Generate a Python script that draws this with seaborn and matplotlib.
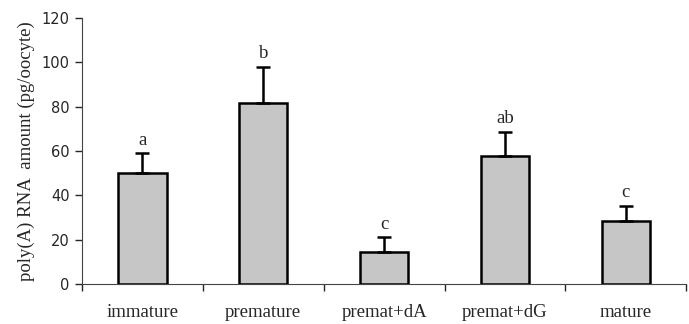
import pandas as pd
import matplotlib.pyplot as plt
import seaborn as sns

### values
stages = ['immature', 'premature', 'premat+dA', 'premat+dG', 'mature']
amount = [50.2, 81.8, 14.3, 57.9, 28.7]
sem = [8.8, 16.2, 6.9, 10.8, 6.6]
letters = ['a', 'b', 'c', 'ab', 'c']

df = pd.DataFrame({'stage': stages, 'amount': amount})

sns.set_style('white')
plt.rcParams['font.family'] = ['Liberation Serif', 'DejaVu Serif']

fig = plt.figure(figsize=(6.89, 3.24), dpi=100)
ax = fig.add_axes([0.119, 0.123, 0.877, 0.821])

sns.barplot(x='stage', y='amount', data=df, color='#c6c6c6', width=0.4,
            edgecolor='black', linewidth=1.8, saturation=1, errorbar=None, ax=ax)

# one-sided error bars (upwards only)
ax.errorbar(range(len(stages)), amount, yerr=[[0] * len(sem), sem], fmt='none',
            ecolor='black', elinewidth=1.8, capsize=5, capthick=1.8)

for i, (v, e, t) in enumerate(zip(amount, sem, letters)):
    ax.text(i, v + e + 2, t, ha='center', va='bottom', fontsize=13.5)

ax.set_ylim(0, 120)
ax.set_xlim(-0.5, 4.5)
ax.set_yticks(range(0, 121, 20))
ax.set_yticklabels([str(v) for v in range(0, 121, 20)], family='DejaVu Sans', fontsize=10.5)
ax.set_xticks([-0.5, 0.5, 1.5, 2.5, 3.5, 4.5], minor=True)
ax.tick_params(axis='x', which='major', length=0, pad=14, labelsize=13.5)
ax.tick_params(axis='x', which='minor', length=5, width=1, direction='out', bottom=True)
ax.tick_params(axis='y', length=5, width=1, direction='out', left=True, pad=4)
ax.set_xlabel('')
ax.set_ylabel('poly(A) RNA  amount (pg/oocyte)', fontsize=13.5, labelpad=5)

sns.despine(ax=ax)
ax.spines['left'].set_color('#444444')
ax.spines['bottom'].set_color('#444444')

fig.savefig('out.png', dpi=100)
